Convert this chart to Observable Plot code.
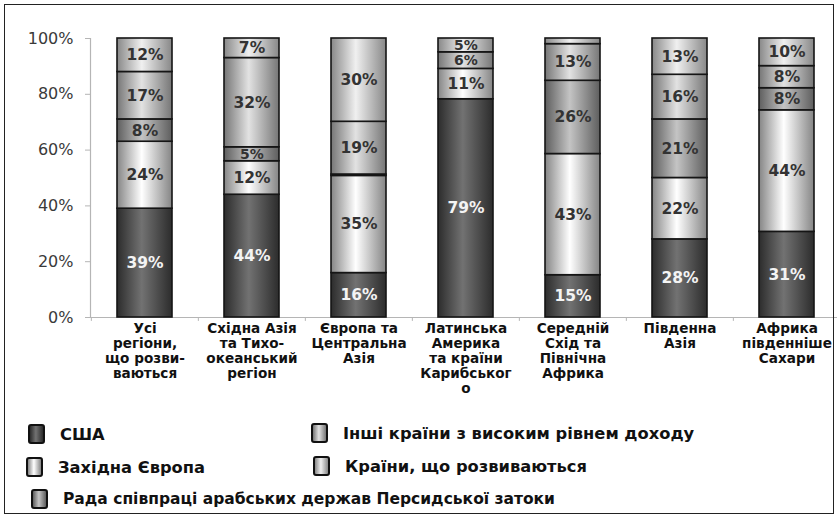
<!DOCTYPE html>
<html>
<head>
<meta charset="utf-8">
<script src="https://cdn.jsdelivr.net/npm/d3@7"></script>
<script src="https://cdn.jsdelivr.net/npm/@observablehq/plot@0.6"></script>
<style>
  html, body { margin: 0; padding: 0; background: #fff; }
  #wrap { position: relative; width: 837px; height: 518px; overflow: hidden; font-family: "DejaVu Sans", sans-serif; }
  #frame { position: absolute; left: 4px; top: 4px; width: 830px; height: 510px; border: 1.5px solid #222; box-sizing: border-box; pointer-events: none; }
  #chart { position: absolute; left: 0; top: 0; }
  .lg { position: absolute; display: flex; align-items: center; font-weight: bold; font-size: 16.3px; color: #111; white-space: nowrap; }
  .sw { width: 13px; height: 16px; border: 2.5px solid #111; border-radius: 3px; margin-right: 15px; box-sizing: content-box; }
</style>
</head>
<body>
<div id="wrap">
  <div id="chart"></div>
  <div id="legend"></div>
  <div id="frame"></div>
</div>
<script>
const regions = ["all", "eap", "eca", "lac", "mena", "sa", "ssa"];
const regionLabels = [
  "Усі\nрегіони,\nщо розви-\nваються",
  "Східна Азія\nта Тихо-\nокеанський\nрегіон",
  "Європа та\nЦентральна\nАзія",
  "Латинська\nАмерика\nта країни\nКарибськог\nо",
  "Середній\nСхід та\nПівнічна\nАфрика",
  "Південна\nАзія",
  "Африка\nпівденніше\nСахари"
];
const series = [
  "США",
  "Західна Європа",
  "Рада співпраці арабських держав Персидської затоки",
  "Інші країни з високим рівнем доходу",
  "Країни, що розвиваються"
];
// values per series, in region order
const usa        = [39, 44, 16, 79, 15, 28, 31];
const westEurope = [24, 12, 35, 11, 43, 22, 44];
const gcc        = [ 8,  5, 0.5, 0, 26, 21,  8];
const otherHigh  = [17, 32, 19,  6, 13, 16,  8];
const developing = [12,  7, 30,  5,  2, 13, 10];
const yTicks = [0, 0.2, 0.4, 0.6, 0.8, 1];

const seriesValues = [usa, westEurope, gcc, otherHigh, developing];
const gradients = [
  ["#2c2c2c", "#727272"],
  ["#858585", "#ffffff"],
  ["#5e5e5e", "#c4c4c4"],
  ["#767676", "#e2e2e2"],
  ["#888888", "#f0f0f0"]
];
const gradIds = series.map((s, i) => `grad${i}`);

const data = [];
regions.forEach((r, ri) => {
  series.forEach((s, si) => {
    data.push({region: r, series: s, value: seriesValues[si][ri]});
  });
});
const labelOf = Object.fromEntries(regions.map((r, i) => [r, regionLabels[i]]));
const labelSize = d => d.value <= 6 ? 14 : 15.5;

const W = 837, H = 410;
const chart = Plot.plot({
  width: W,
  height: H,
  marginTop: 38,
  marginBottom: 93,
  marginLeft: 90,
  marginRight: 0,
  style: {fontFamily: "DejaVu Sans, sans-serif", background: "transparent", overflow: "visible"},
  x: {domain: regions, range: [90, 841], paddingInner: 0.49, paddingOuter: 0.245, axis: null},
  y: {domain: [0, 1], axis: null},
  color: {type: "ordinal", domain: series, range: gradIds.map(id => `url(#${id})`)},
  marks: [
    Plot.frame({anchor: "left", stroke: "#b5b5b5", strokeWidth: 1.2}),
    Plot.ruleY([0], {stroke: "#b5b5b5", strokeWidth: 1.2}),
    Plot.ruleX(regions, {x: d => d, dx: -53.65, y1: 0, y2: -0.014, stroke: "#b5b5b5"}),
    Plot.axisY({ticks: yTicks, tickFormat: d3.format(".0%"), label: null, tickSize: 5, tickPadding: 12, fontSize: 16, color: "#3a3a3a", stroke: "#b5b5b5"}),
    Plot.barY(data, Plot.stackY({x: "region", y: "value", fill: "series", offset: "normalize", stroke: "#151515", strokeWidth: 1.6})),
    Plot.text(data, Plot.stackY({x: "region", y: "value", offset: "normalize",
      text: d => (d.series !== "США" && d.value >= 3) ? d.value + "%" : "",
      fill: "#333", fontSize: labelSize, fontWeight: "bold"})),
    Plot.text(data, Plot.stackY({x: "region", y: "value", offset: "normalize",
      text: d => (d.series === "США" && d.value >= 3) ? d.value + "%" : "",
      fill: "#f4f4f4", fontSize: labelSize, fontWeight: "bold"})),
    Plot.text(regions, {x: d => d, y: 0, text: d => labelOf[d], dy: 5, lineAnchor: "top", lineHeight: 1.1,
      fontSize: 13.6, fontWeight: "bold", fill: "#111"})
  ]
});

// gradient definitions
const ns = "http://www.w3.org/2000/svg";
const defs = document.createElementNS(ns, "defs");
gradients.forEach(([edge, center], i) => {
  const g = document.createElementNS(ns, "linearGradient");
  g.setAttribute("id", gradIds[i]);
  g.setAttribute("x1", "0"); g.setAttribute("x2", "1"); g.setAttribute("y1", "0"); g.setAttribute("y2", "0");
  [[0, edge], [0.45, center], [1, edge]].forEach(([o, c]) => {
    const st = document.createElementNS(ns, "stop");
    st.setAttribute("offset", o);
    st.setAttribute("stop-color", c);
    g.appendChild(st);
  });
  defs.appendChild(g);
});
chart.insertBefore(defs, chart.firstChild);
document.getElementById("chart").appendChild(chart);

// legend
const legendPos = [
  {s: 0, left: 28, top: 424, size: 16.3},
  {s: 3, left: 311, top: 423, size: 16.3},
  {s: 1, left: 26, top: 457, size: 16.3},
  {s: 4, left: 313, top: 456, size: 16.3},
  {s: 2, left: 31, top: 489, size: 15.5}
];
const legend = document.getElementById("legend");
legendPos.forEach(({s, left, top, size}) => {
  const item = document.createElement("div");
  item.className = "lg";
  item.style.left = left + "px";
  item.style.top = top + "px";
  item.style.fontSize = size + "px";
  const sw = document.createElement("div");
  sw.className = "sw";
  const [edge, center] = gradients[s];
  sw.style.background = `linear-gradient(to right, ${edge}, ${center} 45%, ${edge})`;
  const t = document.createElement("span");
  t.textContent = series[s];
  item.appendChild(sw);
  item.appendChild(t);
  legend.appendChild(item);
});
</script>
</body>
</html>
